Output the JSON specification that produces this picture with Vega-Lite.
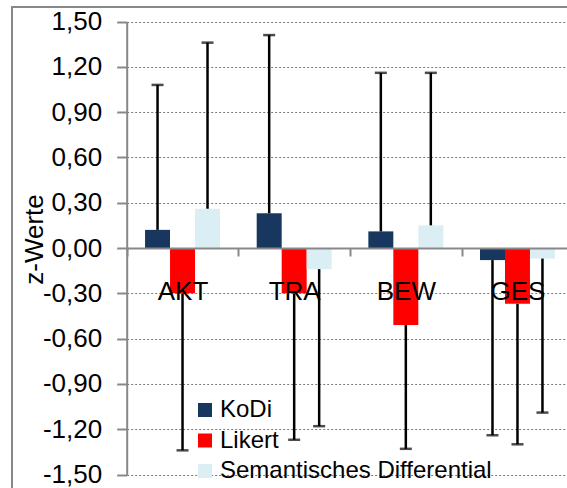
{
  "$schema": "https://vega.github.io/schema/vega-lite/v6.json",
  "width": 560,
  "height": 485,
  "autosize": "none",
  "padding": {"left": 12, "top": 7, "right": 0, "bottom": 0},
  "background": "white",
  "config": {
    "font": "Liberation Sans",
    "view": {"stroke": "#888888", "strokeWidth": 2}
  },
  "data": {
    "values": [
      {"cat": "AKT", "method": "KoDi", "value": 0.12, "end": 1.08},
      {"cat": "AKT", "method": "Likert", "value": -0.30, "end": -1.34},
      {"cat": "AKT", "method": "Semantisches Differential", "value": 0.26, "end": 1.36},
      {"cat": "TRA", "method": "KoDi", "value": 0.23, "end": 1.41},
      {"cat": "TRA", "method": "Likert", "value": -0.30, "end": -1.27},
      {"cat": "TRA", "method": "Semantisches Differential", "value": -0.14, "end": -1.18},
      {"cat": "BEW", "method": "KoDi", "value": 0.11, "end": 1.16},
      {"cat": "BEW", "method": "Likert", "value": -0.51, "end": -1.33},
      {"cat": "BEW", "method": "Semantisches Differential", "value": 0.15, "end": 1.16},
      {"cat": "GES", "method": "KoDi", "value": -0.08, "end": -1.24},
      {"cat": "GES", "method": "Likert", "value": -0.37, "end": -1.30},
      {"cat": "GES", "method": "Semantisches Differential", "value": -0.07, "end": -1.09}
    ]
  },
  "encoding": {
    "x": {
      "field": "cat",
      "type": "nominal",
      "sort": ["AKT", "TRA", "BEW", "GES"],
      "scale": {"range": [114.7, 561.3], "paddingInner": 0, "paddingOuter": 0},
      "axis": {
        "title": null,
        "orient": "bottom",
        "offset": -244,
        "labelFontSize": 26,
        "labelColor": "black",
        "labelAngle": 0,
        "labelBaseline": "alphabetic",
        "labelPadding": 43,
        "tickBand": "extent",
        "tickSize": 8,
        "tickColor": "#888888",
        "tickWidth": 2,
        "domainColor": "#888888",
        "domainWidth": 2,
        "grid": false,
        "zindex": 1
      }
    },
    "xOffset": {
      "field": "method",
      "type": "nominal",
      "sort": ["KoDi", "Likert", "Semantisches Differential"],
      "scale": {"paddingOuter": 0.734, "paddingInner": 0}
    },
    "y": {
      "field": "value",
      "type": "quantitative",
      "scale": {"domain": [-1.5, 1.5], "range": [467.5, 14.5], "nice": false},
      "axis": {
        "title": "z-Werte",
        "values": [-1.5, -1.2, -0.9, -0.6, -0.3, 0, 0.3, 0.6, 0.9, 1.2, 1.5],
        "labelExpr": "(datum.value < -0.001 ? '-' : '') + replace(format(abs(datum.value), '.2f'), '.', ',')",
        "labelFontSize": 26,
        "labelColor": "black",
        "labelPadding": 15,
        "labelOverlap": false,
        "labelFlush": false,
        "tickSize": 10,
        "tickColor": "#888888",
        "tickWidth": 2,
        "domainColor": "#888888",
        "domainWidth": 2,
        "grid": true,
        "gridColor": "#7a7a7a",
        "gridDash": [2, 2],
        "gridWidth": 1,
        "offset": -114.7,
        "titleFontSize": 26,
        "titleFontWeight": "normal",
        "titleColor": "black",
        "titleBaseline": "alphabetic",
        "titleX": -84,
        "titleY": 232
      }
    }
  },
  "layer": [
    {
      "mark": {"type": "bar"},
      "encoding": {
        "color": {
          "field": "method",
          "type": "nominal",
          "sort": ["KoDi", "Likert", "Semantisches Differential"],
          "scale": {"domain": ["KoDi", "Likert", "Semantisches Differential"], "range": ["#17375E", "#FF0000", "#DAEEF3"]},
          "legend": {
            "title": null,
            "orient": "none",
            "legendX": 181,
            "legendY": 391,
            "symbolType": "square",
            "symbolSize": 196,
            "symbolStrokeWidth": 0,
            "labelFontSize": 24,
            "labelColor": "black",
            "labelLimit": 500,
            "labelOffset": 3,
            "rowPadding": 6.5,
            "padding": 0
          }
        }
      }
    },
    {
      "mark": {"type": "rule", "color": "black", "strokeWidth": 2.5},
      "encoding": {"y2": {"field": "end"}}
    },
    {
      "mark": {"type": "tick", "color": "black", "thickness": 2.5, "size": 12},
      "encoding": {
        "y": {"field": "end", "type": "quantitative", "axis": {"title": "z-Werte"}}
      }
    }
  ]
}
